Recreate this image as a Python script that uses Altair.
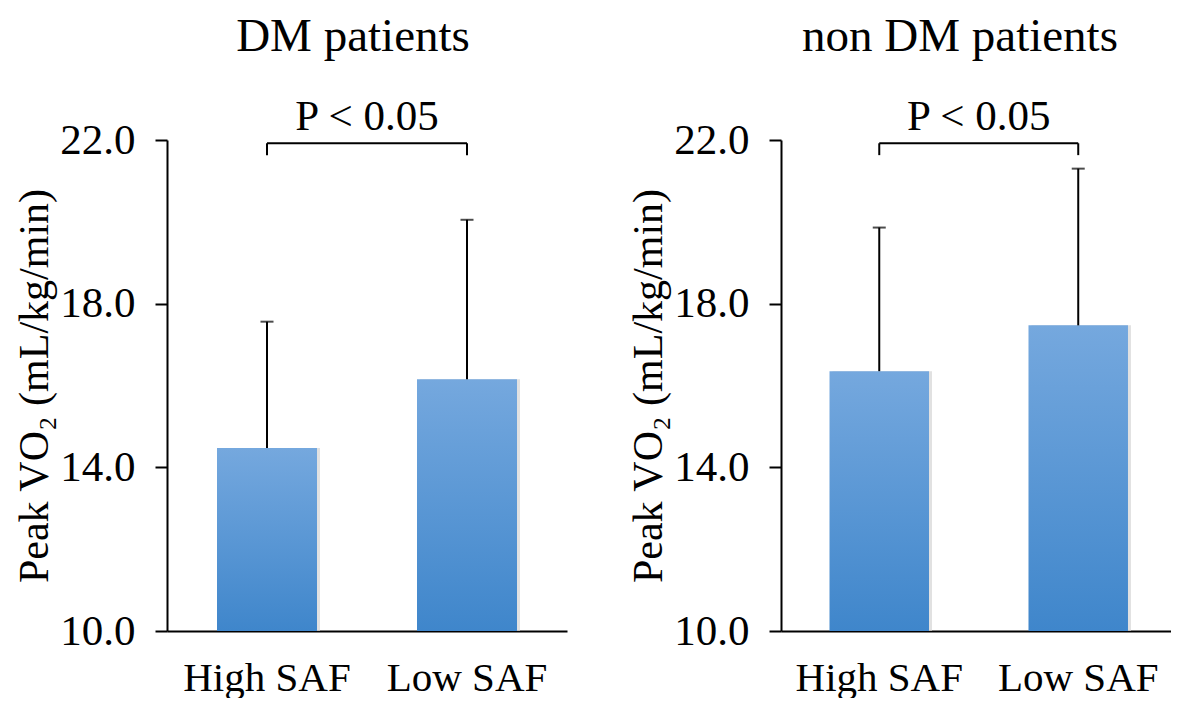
import altair as alt
import pandas as pd

# ---- data ----
groups = ["High SAF", "Low SAF"]
panel_titles = ["DM patients", "non DM patients"]
dm_mean = [14.47, 16.15]
dm_upper = [17.56, 20.05]
non_mean = [16.35, 17.47]
non_upper = [19.86, 21.30]
y_ticks = [10, 14, 18, 22]
p_label = "P < 0.05"
bracket_top = 21.92
bracket_bottom = 21.63

FONT = "Liberation Serif"
Y_TITLE = "Peak VO\u2082 (mL/kg/min)"

grad = alt.Gradient(
    gradient="linear", x1=0, y1=0, x2=0, y2=1,
    stops=[alt.GradientStop(color="#75a8de", offset=0),
           alt.GradientStop(color="#3f86cb", offset=1)],
)


def panel(title, means, uppers, width, pad_outer, align, dx_title, half_step):
    df = pd.DataFrame({"group": groups, "mean": means, "upper": uppers,
                       "base": [y_ticks[0]] * len(groups)})
    br = pd.DataFrame({"g1": [groups[0]], "g2": [groups[-1]], "y": [bracket_top],
                       "label": [p_label]})
    legs = pd.DataFrame({"group": groups, "y": [bracket_top] * 2,
                         "y2": [bracket_bottom] * 2})

    xscale = alt.Scale(domain=groups, paddingInner=0.5, paddingOuter=pad_outer, align=align)
    xaxis = alt.Axis(title=None, labelAngle=0, labelFont=FONT, labelFontSize=41,
                     labelColor="black", labelPadding=27, ticks=False,
                     domainColor="black", domainWidth=2)
    yscale = alt.Scale(domain=[10, 22], nice=False, zero=False)
    yaxis = alt.Axis(values=y_ticks, format=".1f", title=Y_TITLE, grid=False,
                     domainColor="black", domainWidth=2, tickColor="black",
                     tickWidth=2, tickSize=12, labelFont=FONT, labelFontSize=43,
                     labelColor="black", labelPadding=20, titleFont=FONT,
                     titleFontSize=42, titleFontWeight="normal", titleColor="black",
                     titlePadding=3)

    def X(field):
        return alt.X(f"{field}:N", scale=xscale, axis=xaxis)

    def Y(field):
        return alt.Y(f"{field}:Q", scale=yscale, axis=yaxis)

    base = alt.Chart(df)
    shadow = base.mark_bar(color="#d4d4d4", xOffset=3, opacity=0.7).encode(
        x=X("group"), y=Y("mean"), y2="base")
    bars = base.mark_bar(color=grad).encode(x=X("group"), y=Y("mean"), y2="base")
    err = base.mark_rule(color="black", strokeWidth=2).encode(
        x=X("group"), y=Y("mean"), y2="upper")
    cap = base.mark_tick(color="black", thickness=2, size=13).encode(
        x=X("group"), y=Y("upper"))

    bracket = alt.Chart(br).mark_rule(color="black", strokeWidth=2).encode(
        x=X("g1"), x2="g2", y=Y("y"))
    bleg = alt.Chart(legs).mark_rule(color="black", strokeWidth=2).encode(
        x=X("group"), y=Y("y"), y2="y2")
    ptext = alt.Chart(br).mark_text(font=FONT, fontSize=43, color="black",
                                    align="center", baseline="alphabetic",
                                    dx=half_step, dy=-13).encode(
        x=X("g1"), y=Y("y"), text="label:N")

    return alt.layer(shadow, bars, err, cap, bracket, bleg, ptext).properties(
        width=width, height=491,
        title=alt.TitleParams(title, font=FONT, fontSize=47, fontWeight="normal",
                              color="black", anchor="middle", frame="group",
                              dx=dx_title, offset=35),
    )


left = panel(panel_titles[0], dm_mean, dm_upper, 400, 0.25, 0.5, -14, 100)
right = panel(panel_titles[1], non_mean, non_upper, 390, 0.23, 0.53, -16, 99.5)

chart = alt.hconcat(left, right, spacing=60).properties(
    padding={"left": 5, "top": 5, "right": 0, "bottom": 0}, background="white"
).configure_view(stroke=None)

chart.save("out.html", embed_options={"renderer": "svg", "actions": False})
